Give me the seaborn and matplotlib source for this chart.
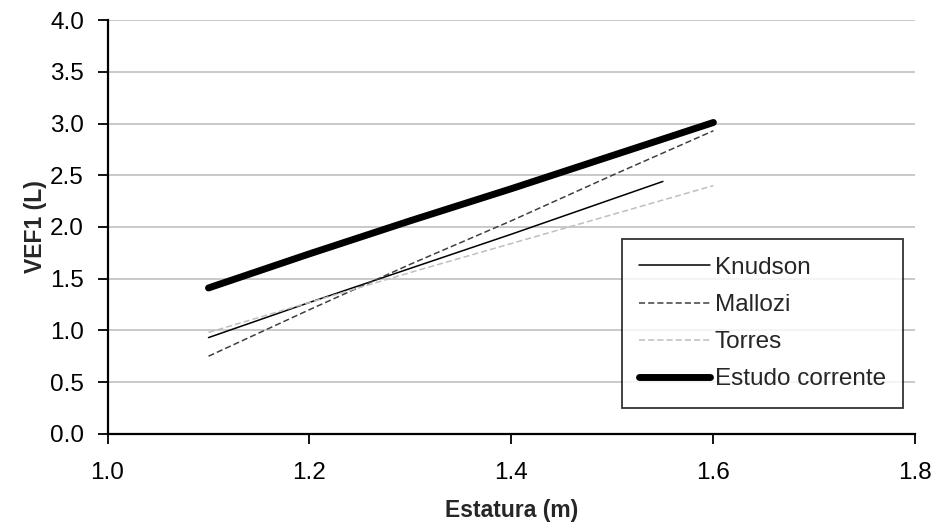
import matplotlib
matplotlib.use("Agg")
import matplotlib.pyplot as plt
import numpy as np
import pandas as pd
import seaborn as sns

# values
estatura = [1.1, 1.2, 1.3, 1.4, 1.5, 1.6]
knudson_x = [1.1, 1.2, 1.3, 1.4, 1.5, 1.55]
knudson = [0.93, 1.27, 1.60, 1.93, 2.27, 2.44]
mallozi = [0.75, 1.20, 1.64, 2.06, 2.50, 2.93]
torres = [0.98, 1.27, 1.56, 1.84, 2.12, 2.40]
estudo = [1.41, 1.74, 2.06, 2.37, 2.69, 3.01]

series = ["Knudson", "Mallozi", "Torres", "Estudo corrente"]

df = pd.concat([
    pd.DataFrame({"x": knudson_x, "y": knudson, "serie": "Knudson"}),
    pd.DataFrame({"x": estatura, "y": mallozi, "serie": "Mallozi"}),
    pd.DataFrame({"x": estatura, "y": torres, "serie": "Torres"}),
    pd.DataFrame({"x": estatura, "y": estudo, "serie": "Estudo corrente"}),
])

sns.set_style("white")
plt.rcParams["font.family"] = ["Liberation Sans", "DejaVu Sans"]

fig, ax = plt.subplots(figsize=(9.35, 5.29), dpi=100)
fig.subplots_adjust(left=0.115, right=0.979, top=0.962, bottom=0.18)

palette = {"Knudson": "black", "Mallozi": "#404040",
           "Torres": "#bfbfbf", "Estudo corrente": "black"}
dashes = {"Knudson": None, "Mallozi": (4, 2),
          "Torres": (4, 2), "Estudo corrente": None}
widths = {"Knudson": 1.1, "Mallozi": 1.1, "Torres": 1.1, "Estudo corrente": 5}

for name in series:
    sub = df[df["serie"] == name]
    sns.lineplot(data=sub, x="x", y="y", ax=ax, color=palette[name],
                 lw=widths[name], label=name, solid_capstyle="round")
    if dashes[name] is not None:
        ax.lines[-1].set_dashes(dashes[name])

ax.set_xlim(1.0, 1.8)
ax.set_ylim(0.0, 4.0)
ax.set_xticks(np.arange(1.0, 1.81, 0.2))
ax.set_yticks(np.arange(0.0, 4.01, 0.5))
ax.xaxis.set_major_formatter(matplotlib.ticker.FormatStrFormatter("%.1f"))
ax.yaxis.set_major_formatter(matplotlib.ticker.FormatStrFormatter("%.1f"))
ax.grid(axis="y", color="#c0c0c0", lw=1.2)
ax.set_axisbelow(True)

for side in ["top", "right"]:
    ax.spines[side].set_visible(False)
for side in ["left", "bottom"]:
    ax.spines[side].set_color("black")
    ax.spines[side].set_linewidth(1.6)

ax.tick_params(axis="both", direction="out", length=7, width=1.3,
               colors="black", labelsize=17.5, bottom=True, left=True)
ax.tick_params(axis="x", pad=13)
ax.tick_params(axis="y", pad=10)
ax.set_xlabel("Estatura (m)", fontsize=16.5, fontweight="bold", labelpad=11)
ax.set_ylabel("VEF1 (L)", fontsize=16.5, fontweight="bold", labelpad=2)

leg = ax.legend(loc="lower right", bbox_to_anchor=(0.985, 0.063),
                borderaxespad=0, frameon=True, fancybox=False, fontsize=17.5,
                handlelength=2.9, labelspacing=0.62, borderpad=0.72,
                handletextpad=0.2)
leg.get_frame().set_edgecolor("black")
leg.get_frame().set_linewidth(1.3)

fig.savefig("out.png", dpi=100, facecolor="white")
